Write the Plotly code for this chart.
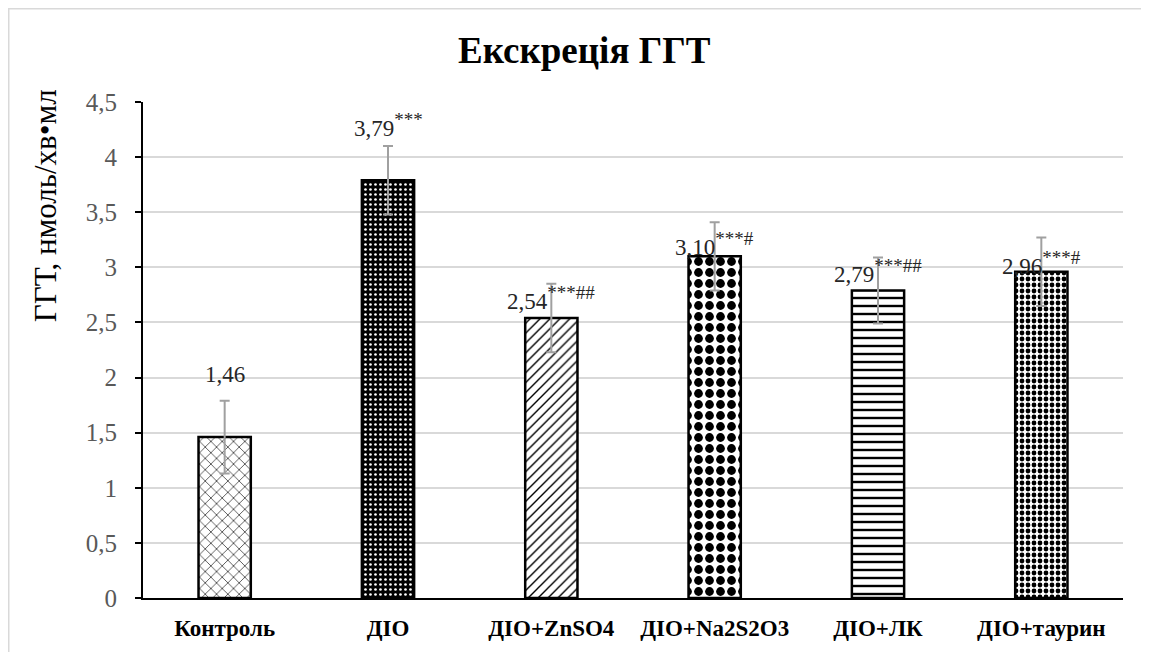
import plotly.graph_objects as go

categories = ["Контроль", "ДІО", "ДІО+ZnSO4", "ДІО+Na2S2O3", "ДІО+ЛК", "ДІО+таурин"]
values = [1.46, 3.79, 2.54, 3.10, 2.79, 2.96]
errors = [0.33, 0.31, 0.31, 0.31, 0.30, 0.31]
value_labels = ["1,46", "3,79", "2,54", "3,10", "2,79", "2,96"]
significance = ["", "***", "***##", "***#", "***##", "***#"]
ytick_vals = [0, 0.5, 1, 1.5, 2, 2.5, 3, 3.5, 4, 4.5]
ytick_text = ["0", "0,5", "1", "1,5", "2", "2,5", "3", "3,5", "4", "4,5"]

# styling
label_offsets = [0.565, 0.505, 0.185, 0.115, 0.175, 0.075]
pattern_shapes = ["x", ".", "/", ".", "-", "."]
pattern_bg = ["white", "black", "white", "white", "white", "white"]
pattern_fg = ["black", "white", "black", "black", "black", "black"]
pattern_size = [8, 5, 7, 11, 8, 6]
pattern_solid = [0.15, 0.22, 0.2, 0.5, 0.3, 0.5]

SERIF = "Liberation Serif, Times New Roman, serif"

fig = go.Figure()
for i, c in enumerate(categories):
    fig.add_trace(go.Bar(
        x=[c], y=[values[i]],
        marker=dict(
            color=pattern_bg[i],
            line=dict(color="black", width=2.5),
            pattern=dict(shape=pattern_shapes[i], fgcolor=pattern_fg[i],
                         bgcolor=pattern_bg[i], size=pattern_size[i],
                         solidity=pattern_solid[i], fillmode="replace"),
        ),
        error_y=dict(type="data", array=[errors[i]], color="#a0a0a0",
                     thickness=2, width=5),
        showlegend=False,
        hoverinfo="skip",
    ))

for i, c in enumerate(categories):
    txt = value_labels[i]
    if significance[i]:
        txt += f"<sup><span style='font-size:19px'>{significance[i]}</span></sup>"
    fig.add_annotation(x=c, y=values[i] + label_offsets[i], text=txt,
                       showarrow=False, font=dict(family=SERIF, size=23, color="#262626"),
                       xanchor="center", yanchor="middle")

fig.add_annotation(
    xref="paper", yref="paper", x=-0.1, y=0.79,
    text="ГГТ, нмоль/хв•мл",
    textangle=-90, showarrow=False,
    font=dict(family=SERIF, size=31, color="black"),
    xanchor="center", yanchor="middle",
)

fig.update_layout(
    width=1141, height=644,
    margin=dict(l=135, r=26, t=94, b=54, autoexpand=False),
    paper_bgcolor="white", plot_bgcolor="white",
    bargap=0.68,
    font=dict(family=SERIF),
    title=dict(text="<b>Екскреція ГГТ</b>", x=0.505, xanchor="center",
               y=0.935, yanchor="middle",
               font=dict(family=SERIF, size=37, color="black")),
    xaxis=dict(
        showline=True, linecolor="black", linewidth=2,
        ticks="", showgrid=False,
        tickfont=dict(family=SERIF, size=23, color="black", weight="bold"),
        ticklabelstandoff=8,
    ),
    yaxis=dict(
        range=[0, 4.5], tickvals=ytick_vals, ticktext=ytick_text,
        showline=True, linecolor="black", linewidth=2,
        ticks="outside", ticklen=6, tickcolor="black", tickwidth=1.5,
        showgrid=True, gridcolor="#d9d9d9", gridwidth=1.5,
        zeroline=False,
        tickfont=dict(family=SERIF, size=25, color="#595959"),
        ticklabelstandoff=13,
    ),
    shapes=[dict(type="rect", xref="paper", yref="paper",
                 x0=-0.137, x1=1.2, y0=1.188, y1=-0.3,
                 line=dict(color="#d9d9d9", width=1.5), fillcolor="rgba(0,0,0,0)",
                 layer="below")],
)

fig.write_html("out.html")
